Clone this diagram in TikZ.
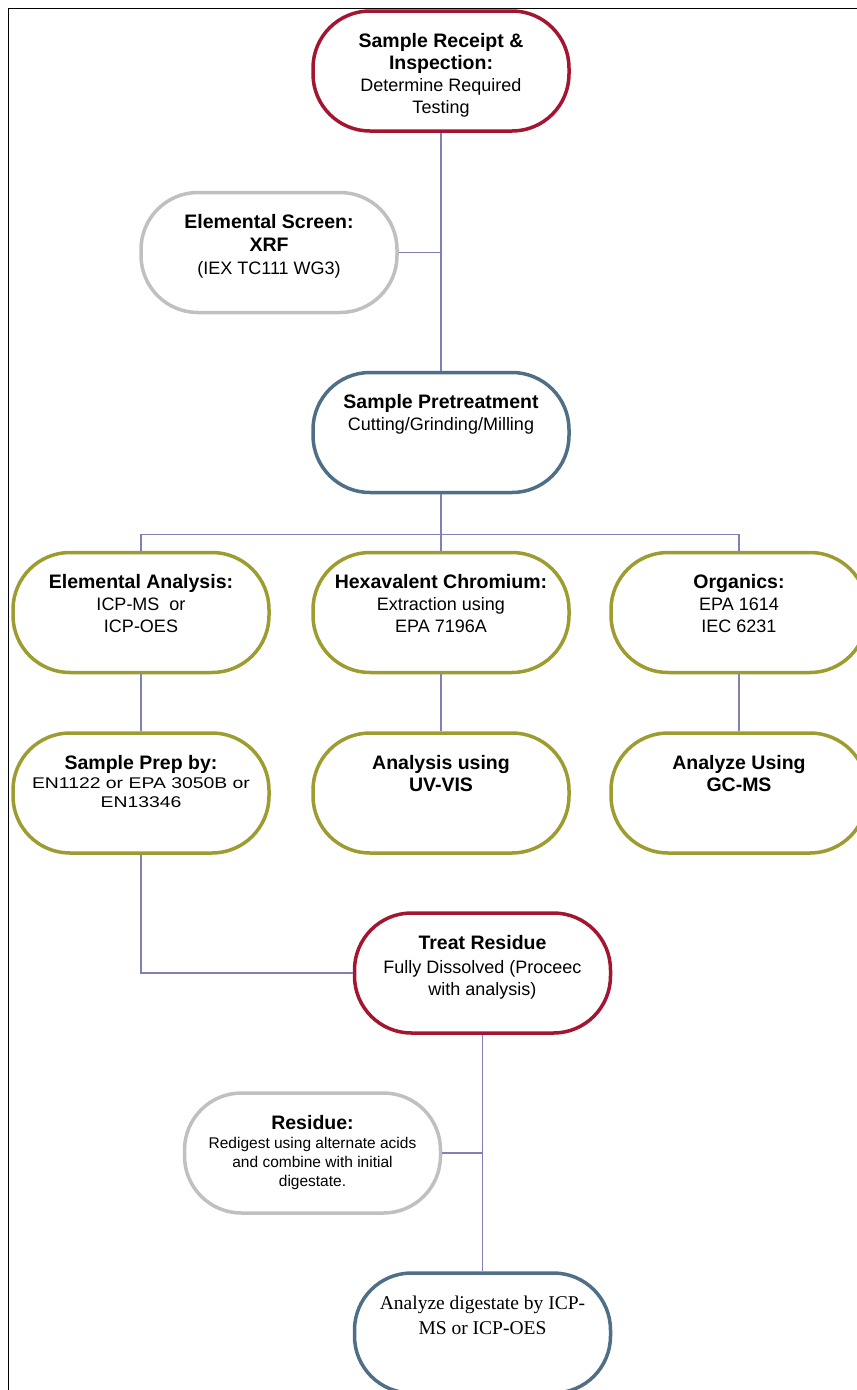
\documentclass[tikz,border=0pt]{standalone}
\usepackage{fontspec}
\setmainfont{Liberation Sans}
\newfontfamily\serifft{Liberation Serif}
\usepackage{graphicx}
\definecolor{redc}{RGB}{163,21,48}
\definecolor{greyc}{RGB}{192,192,192}
\definecolor{bluec}{RGB}{79,111,135}
\definecolor{olivec}{RGB}{156,156,48}
\definecolor{linec}{RGB}{128,128,185}
\newcommand\bt[2][21]{\begin{minipage}[c][120pt][t]{256pt}\centering\vspace*{#1pt}\strut#2\par\end{minipage}}
\newcommand\nf{\fontsize{18}{22}\selectfont\mdseries}
\newcommand\smallf{\fontsize{15.5}{19}\selectfont\mdseries}
\begin{document}
\begin{tikzpicture}[x=1pt,y=-1pt,
  box/.style={draw=#1, line width=3.5pt, rounded corners=57pt, minimum width=255pt, minimum height=120pt, inner sep=0pt, fill=white, font=\fontsize{19.5}{22}\selectfont\bfseries},
  conn/.style={draw=linec, line width=1.1pt},
  frameline/.style={draw=black, line width=1.5pt}]
\useasboundingbox (0,0) rectangle (857,1390);
\draw[frameline] (8.5,1390) -- (8.5,8.5) -- (857,8.5);

\node[box=redc] (receipt) at (441,71) {\bt{Sample Receipt \&\\ Inspection:\\ \nf Determine Required\\ Testing}};
\node[box=greyc] (screen) at (269,252.5) {\bt{Elemental Screen:\\[1pt] XRF\\[1pt] \nf (IEX TC111 WG3)}};
\node[box=bluec] (pretreat) at (441,432.5) {\bt{Sample Pretreatment\\ \nf Cutting/Grinding/Milling}};

\node[box=olivec] (elem) at (141,612.5) {\bt{Elemental Analysis:\\ \nf ICP-MS\ \ or\\ ICP-OES}};
\node[box=olivec] (hex) at (441,612.5) {\bt{Hexavalent Chromium:\\ \nf Extraction using\\ EPA 7196A}};
\node[box=olivec] (org) at (739,612.5) {\bt{Organics:\\ \nf EPA 1614\\ IEC 6231}};

\node[box=olivec] (prep) at (141,793) {\bt{Sample Prep by:\par \smallf\scalebox{1.25}[1]{EN1122 or EPA 3050B or}\hspace*{16pt}\\ \scalebox{1.25}[1]{EN13346}}};
\node[box=olivec] (uvvis) at (441,793) {\bt{Analysis using\\ UV-VIS}};
\node[box=olivec] (gcms) at (739,793) {\bt{Analyze Using\\ GC-MS}};

\node[box=redc] (treat) at (482.5,973) {\bt{Treat Residue\\[2pt] \nf Fully Dissolved (Proceec\\ with analysis)}};
\node[box=greyc] (residue) at (312.5,1153) {\bt{Residue:\par \smallf Redigest using alternate acids\\ and combine with initial\\ digestate.}};
\node[box=bluec] (final) at (482.5,1333) {\bt{\serifft\fontsize{19.5}{25}\selectfont\mdseries Analyze digestate by ICP-\\ MS or ICP-OES}};

\draw[conn] (receipt.south) -- (pretreat.north);
\draw[conn] (screen.east) -- (screen.east -| receipt.south);
\draw[conn] (pretreat.south) -- ++(0,40) coordinate (bus);
\draw[conn] (elem.north) |- (bus) -| (org.north);
\draw[conn] (bus) -- (hex.north);
\draw[conn] (elem.south) -- (prep.north);
\draw[conn] (hex.south) -- (uvvis.north);
\draw[conn] (org.south) -- (gcms.north);
\draw[conn] (prep.south) |- (treat.west);
\draw[conn] (treat.south) -- (final.north);
\draw[conn] (residue.east) -- (residue.east -| treat.south);
\end{tikzpicture}
\end{document}
